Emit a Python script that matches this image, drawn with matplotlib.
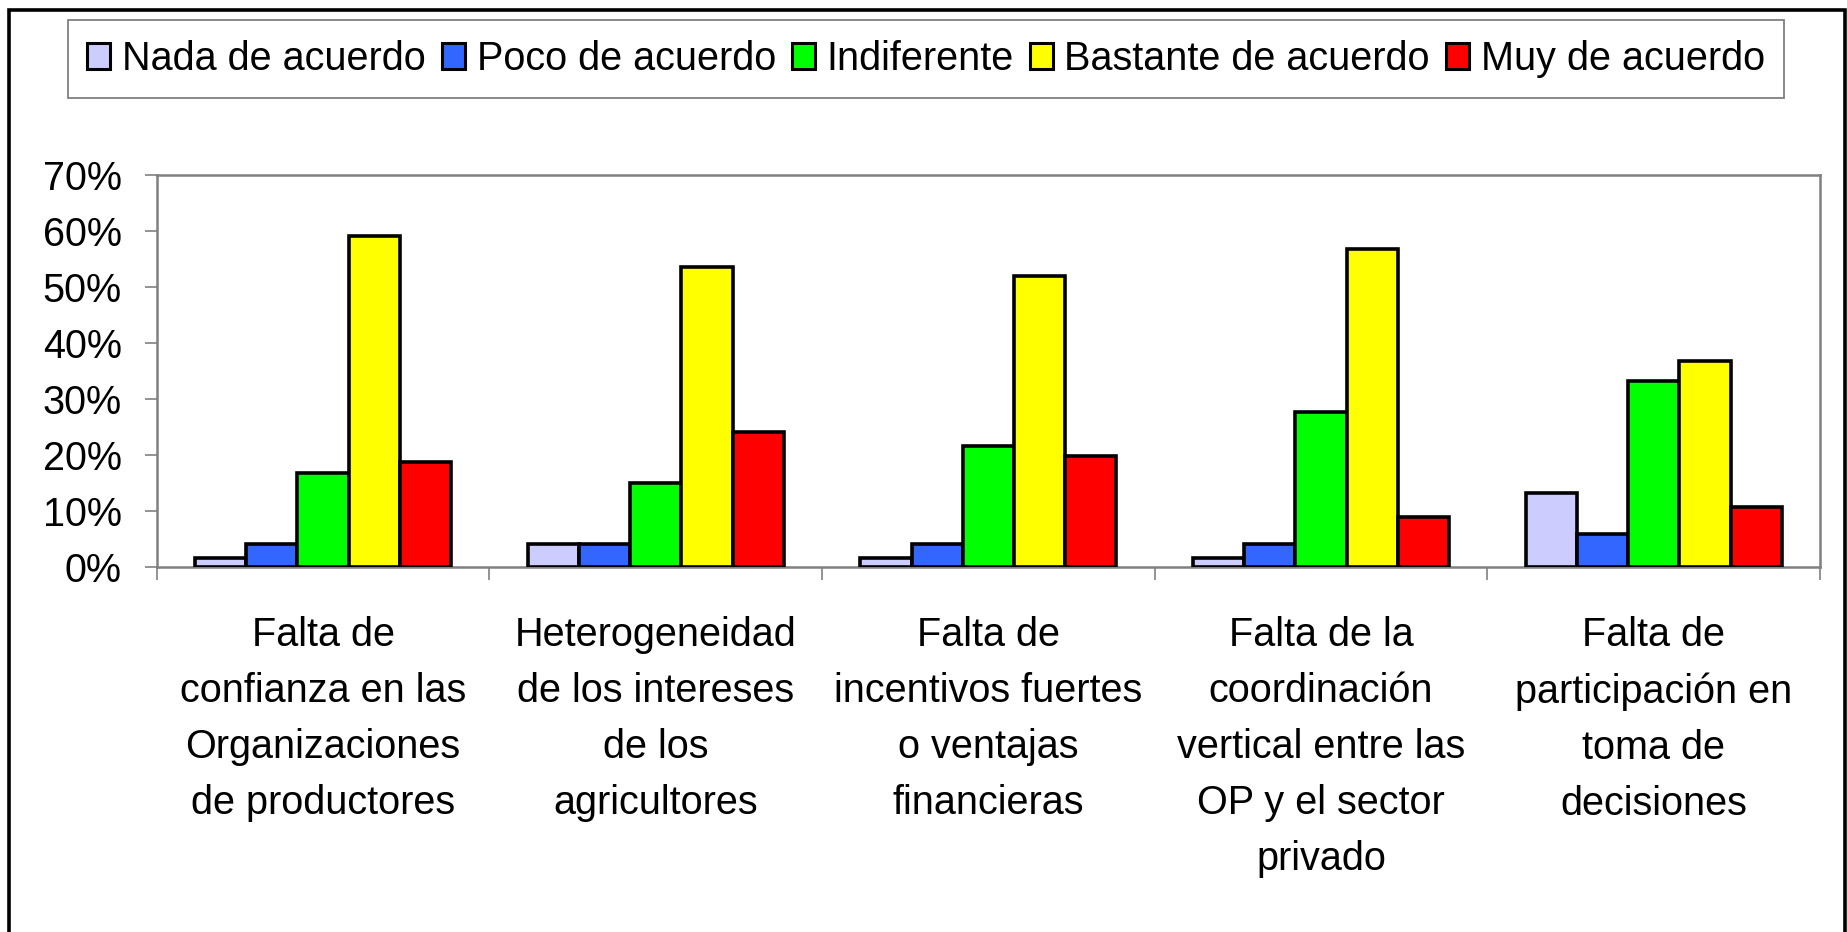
import numpy as np
import matplotlib
matplotlib.use('Agg')
import matplotlib.pyplot as plt
from matplotlib.patches import Rectangle

plt.rcParams['font.family'] = ['Liberation Sans', 'DejaVu Sans']

categories = [
    "Falta de\nconfianza en las\nOrganizaciones\nde productores",
    "Heterogeneidad\nde los intereses\nde los\nagricultores",
    "Falta de\nincentivos fuertes\no ventajas\nfinancieras",
    "Falta de la\ncoordinación\nvertical entre las\nOP y el sector\nprivado",
    "Falta de\nparticipación en\ntoma de\ndecisiones",
]
seriesNames = ["Nada de acuerdo", "Poco de acuerdo", "Indiferente",
               "Bastante de acuerdo", "Muy de acuerdo"]
nadaAcuerdo = [1.7, 4.2, 1.7, 1.7, 13.3]
pocoAcuerdo = [4.2, 4.2, 4.2, 4.2, 6.0]
indiferente = [16.8, 15.1, 21.6, 27.7, 33.2]
bastanteAcuerdo = [59.2, 53.6, 51.9, 56.8, 36.8]
muyAcuerdo = [18.7, 24.1, 19.9, 9.0, 10.8]
colors = ["#CCCCFF", "#3366FF", "#00FF00", "#FFFF00", "#FF0000"]
yTicks = [0, 10, 20, 30, 40, 50, 60, 70]

W, H = 1847, 932
fig = plt.figure(figsize=(W / 100, H / 100), dpi=100)
ax = fig.add_axes([156.7 / W, 1 - 567.3 / H, (1820 - 156.7) / W, (567.3 - 175) / H])

allSeries = [nadaAcuerdo, pocoAcuerdo, indiferente, bastanteAcuerdo, muyAcuerdo]
x = np.arange(len(categories))
barWidth = 0.154
for j, (vals, name, col) in enumerate(zip(allSeries, seriesNames, colors)):
    ax.bar(x + (j - 2) * barWidth, vals, width=barWidth, color=col,
           edgecolor='black', linewidth=2.6, label=name, zorder=3)

ax.set_xlim(-0.5, len(categories) - 0.5)
ax.set_ylim(0, 70)
ax.set_yticks(yTicks)
ax.set_yticklabels([f"{t}%" for t in yTicks], fontsize=28.5)

# boundary ticks without labels, category names as minor ticks
ax.set_xticks(np.arange(-0.5, len(categories), 1.0))
ax.set_xticklabels([])
ax.set_xticks(x, minor=True)
ax.set_xticklabels(categories, minor=True, fontsize=28.5)
for lbl in ax.get_xticklabels(minor=True):
    lbl.set_linespacing(1.6)

ax.tick_params(axis='x', which='major', length=9.5, width=1.2, color='#808080')
ax.tick_params(axis='x', which='minor', length=0, pad=35)
ax.tick_params(axis='y', length=9, width=1.2, color='#808080', pad=16)

for sp in ax.spines.values():
    sp.set_color('#808080')
    sp.set_linewidth(1.8)

leg = fig.legend(loc='center', bbox_to_anchor=(926 / W, 1 - 59 / H), ncol=5,
                 fontsize=28.5, frameon=True, fancybox=False, framealpha=1,
                 edgecolor='#808080', handlelength=0.58, handleheight=0.63,
                 handletextpad=0.3, columnspacing=0.4, borderpad=0.5,
                 borderaxespad=0)
leg.get_frame().set_linewidth(1.3)
for h in leg.legend_handles:
    h.set_linewidth(2.2)

# outer chart frame
fig.add_artist(Rectangle((9 / W, -0.1), (1845 - 9) / W, 1.1 - 10 / H,
                         transform=fig.transFigure, fill=False,
                         edgecolor='black', linewidth=2.6))

fig.savefig('out.png', dpi=100)
